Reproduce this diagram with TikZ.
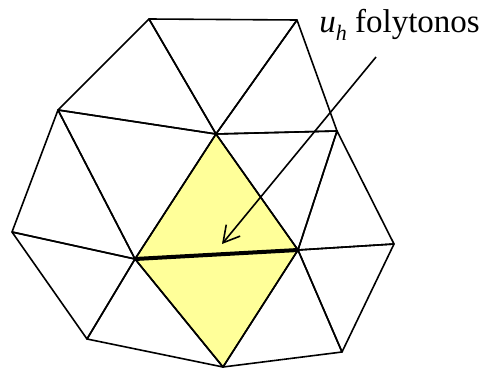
\documentclass[tikz,border=0pt]{standalone}
\usepackage{fontspec}
\setmainfont{Liberation Serif}
\usetikzlibrary{arrows.meta}
\definecolor{elemyellow}{RGB}{255,255,153}

\begin{document}
\begin{tikzpicture}[x=0.5pt, y=-0.5pt,
    mesh/.style={draw, line width=0.8pt, line join=round},
    edge/.style={draw, line width=2pt},
    pointer/.style={draw, line width=0.8pt, -{Straight Barb[length=8pt, width=9pt]}}]
  \useasboundingbox (0,0) rectangle (482,369);

  % mesh vertices
  \coordinate (A) at (149,19);
  \coordinate (B) at (297,20);
  \coordinate (C) at (58,110);
  \coordinate (D) at (216,134);
  \coordinate (E) at (337,131);
  \coordinate (F) at (12,232);
  \coordinate (G) at (135,259);
  \coordinate (H) at (298,250);
  \coordinate (I) at (394,244);
  \coordinate (J) at (87,339);
  \coordinate (K) at (223,367);
  \coordinate (L) at (342,352);

  % the two elements sharing the edge
  \fill[elemyellow] (D) -- (G) -- (K) -- (H) -- cycle;

  \foreach \p/\q/\r in {A/C/D, A/B/D, B/D/E, C/F/G, C/D/G, D/G/H, D/E/H,
                        E/H/I, F/G/J, G/J/K, G/H/K, H/K/L, H/I/L}
    \draw[mesh] (\p) -- (\q) -- (\r) -- cycle;

  \draw[edge] (G) -- (H);

  \node[anchor=base west, inner sep=0pt, font=\fontsize{16.5}{19}\selectfont] (label) at (319,33)
    {\textit{u}\raisebox{-0.5ex}{\fontsize{11}{13}\selectfont\textit{h}} folytonos};
  \coordinate (tail) at (376,57);
  \coordinate (tip) at (222,244);
  \draw[pointer] (tail) -- (tip);
\end{tikzpicture}
\end{document}
